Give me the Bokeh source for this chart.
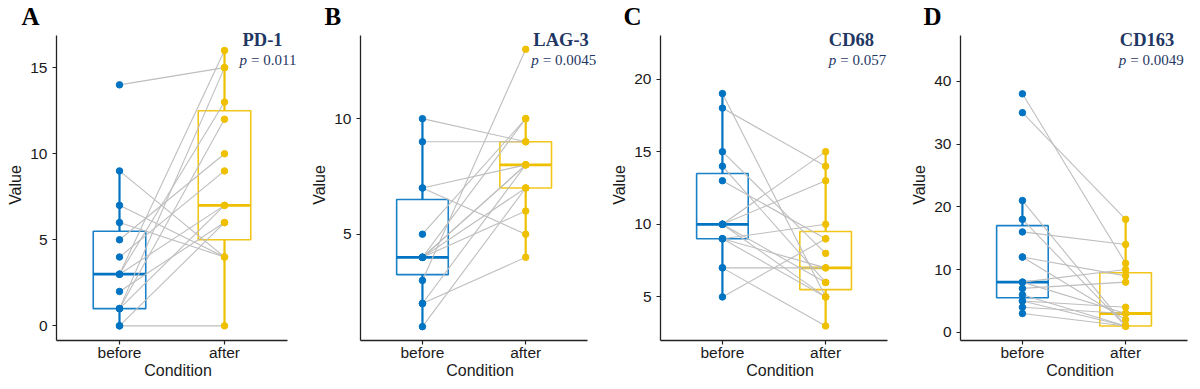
import numpy as np
from bokeh.plotting import figure
from bokeh.layouts import row
from bokeh.models import Label, FixedTicker, Range1d
from bokeh.embed import file_html
from bokeh.resources import INLINE

conditions = ["before", "after"]

pd1_before = [14, 9, 7, 6, 5, 4, 3, 3, 3, 2, 1, 1, 1, 0, 0]
pd1_after = [15, 4, 4, 4, 10, 9, 16, 13, 7, 6, 15, 12, 7, 6, 0]

lag3_before = [1, 2, 2, 3, 4, 4, 4, 4, 4, 5, 7, 7, 9, 10]
lag3_after = [7, 4, 8, 13, 10, 8, 8, 7, 6, 10, 8, 5, 9, 9]

cd68_before = [19, 18, 15, 14, 13, 10, 10, 10, 10, 9, 9, 9, 7, 7, 5]
cd68_after = [5, 14, 8, 6, 9, 15, 13, 6, 5, 10, 7, 5, 7, 3, 9]

cd163_before = [38, 35, 21, 18, 16, 12, 12, 8, 8, 7, 6, 5, 5, 4, 3]
cd163_after = [11, 18, 1, 1, 14, 9, 2, 10, 3, 8, 1, 4, 1, 3, 1]

panel_letters = ["A", "B", "C", "D"]
markers = ["PD-1", "LAG-3", "CD68", "CD163"]
p_values = ["0.011", "0.0045", "0.057", "0.0049"]
y_ticks = [[0, 5, 10, 15], [5, 10], [5, 10, 15, 20], [0, 10, 20, 30, 40]]
y_ranges = [(-0.85, 16.87), (0.4, 13.6), (2.0, 23.0), (-1.3, 47.3)]

BLUE = "#0073C2"
YELLOW = "#EFC000"
NAVY = "#1F3763"
GREY = "#BEBEBE"

# (figure width, left border, frame width of the axes area)
layouts = [(308, 56, 231), (300, 49, 230), (300, 51, 228), (292, 51, 228)]
EXT_R = 12   # extra frame room on the right (for the annotation text)
EXT_T = 6    # extra frame room on top
TOP = 33 - EXT_T
FH = 307
H = 389
# annotation positions relative to the axes area (px): letter_left, title_left, p_left
ann = [(-35, 186, 183), (-36, 175, 173), (-37, 169, 169), (-37, 160, 159)]

data = [(pd1_before, pd1_after), (lag3_before, lag3_after),
        (cd68_before, cd68_after), (cd163_before, cd163_after)]


def box_stats(v):
    v = np.asarray(v, dtype=float)
    q1, med, q3 = np.percentile(v, [25, 50, 75])
    iqr = q3 - q1
    lo = v[v >= q1 - 1.5 * iqr].min()
    hi = v[v <= q3 + 1.5 * iqr].max()
    return q1, med, q3, lo, hi


figs = []
for i in range(4):
    W, bl, FW = layouts[i]
    br = W - bl - FW - EXT_R
    y0, y1 = y_ranges[i]
    x0, x1 = 0.4, 2.6
    xs = (x1 - x0) / FW
    ys = (y1 - y0) / FH
    p = figure(width=W, height=H,
               x_range=Range1d(x0, x1 + EXT_R * xs),
               y_range=Range1d(y0, y1 + EXT_T * ys),
               output_backend="svg", toolbar_location=None,
               min_border_left=bl, min_border_right=br, min_border_top=TOP,
               min_border_bottom=H - TOP - FH - EXT_T)
    p.xgrid.visible = False
    p.ygrid.visible = False
    p.outline_line_color = None
    p.background_fill_color = "white"

    before, after = data[i]
    for xi, vals, col in [(1, before, BLUE), (2, after, YELLOW)]:
        q1, med, q3, lo, hi = box_stats(vals)
        p.segment(x0=[xi, xi], y0=[q3, q1], x1=[xi, xi], y1=[hi, lo],
                  line_color=col, line_width=2.2)
        p.quad(left=[xi - 0.25], right=[xi + 0.25], bottom=[q1], top=[q3],
               fill_alpha=0, line_color=col, line_width=1.6, line_alpha=0.9)
        p.segment(x0=[xi - 0.25], y0=[med], x1=[xi + 0.25], y1=[med],
                  line_color=col, line_width=2.8)
    n = len(before)
    p.segment(x0=[1] * n, y0=before, x1=[2] * n, y1=after,
              line_color=GREY, line_width=1.1)
    p.scatter(x=[1] * n, y=before, size=6.5, fill_color=BLUE, line_color=BLUE)
    p.scatter(x=[2] * n, y=after, size=6.5, fill_color=YELLOW, line_color=YELLOW)

    p.xaxis.ticker = FixedTicker(ticks=[1, 2])
    p.xaxis.major_label_overrides = {1: conditions[0], 2: conditions[1]}
    p.yaxis.ticker = FixedTicker(ticks=y_ticks[i])
    p.xaxis.bounds = (x0, x1)
    p.yaxis.bounds = (y0, y1)
    p.xaxis.axis_label = "Condition"
    p.yaxis.axis_label = "Value"
    for ax in (p.xaxis, p.yaxis):
        ax.axis_line_color = "#222222"
        ax.axis_line_width = 1.3
        ax.major_tick_line_color = "#222222"
        ax.major_tick_line_width = 1.2
        ax.major_tick_in = 0
        ax.major_tick_out = 4
        ax.minor_tick_line_color = None
        ax.major_label_text_font = "Liberation Sans"
        ax.major_label_text_font_size = "15.5px"
        ax.major_label_text_color = "#1a1a1a"
        ax.axis_label_text_font = "Liberation Sans"
        ax.axis_label_text_font_size = "16px"
        ax.axis_label_text_font_style = "normal"
        ax.axis_label_text_color = "#1a1a1a"
    p.xaxis.major_label_standoff = -1
    p.xaxis.axis_label_standoff = -2
    p.yaxis.major_label_standoff = 5
    p.yaxis.axis_label_standoff = 3

    def dx(px):
        return x0 + px * xs

    def dy(py):
        return y1 - py * ys

    lx, tx, px_ = ann[i]
    # panel letter as the figure title, pushed left over the y axis area
    p.title.text = panel_letters[i]
    p.title.align = "left"
    p.title.offset = lx
    p.title.vertical_align = "bottom"
    p.title.standoff = 0
    p.title.text_font = "Liberation Serif"
    p.title.text_font_style = "bold"
    p.title.text_font_size = "25px"
    p.title.text_color = "black"

    p.add_layout(Label(x=dx(tx), y=dy(5), text=markers[i],
                       text_font="Liberation Serif", text_font_style="bold",
                       text_font_size="18.5px", text_color=NAVY,
                       text_align="left", text_baseline="middle"))
    p.add_layout(Label(x=dx(px_), y=dy(25), text="p",
                       text_font="Liberation Serif", text_font_style="italic",
                       text_font_size="15px", text_color=NAVY,
                       text_align="left", text_baseline="middle"))
    p.add_layout(Label(x=dx(px_), y=dy(25), x_offset=11.5, text="= " + p_values[i],
                       text_font="Liberation Serif", text_font_style="normal",
                       text_font_size="15px", text_color=NAVY,
                       text_align="left", text_baseline="middle"))
    figs.append(p)

layout = row(*figs)
open("out.html", "w").write(file_html(layout, INLINE))
